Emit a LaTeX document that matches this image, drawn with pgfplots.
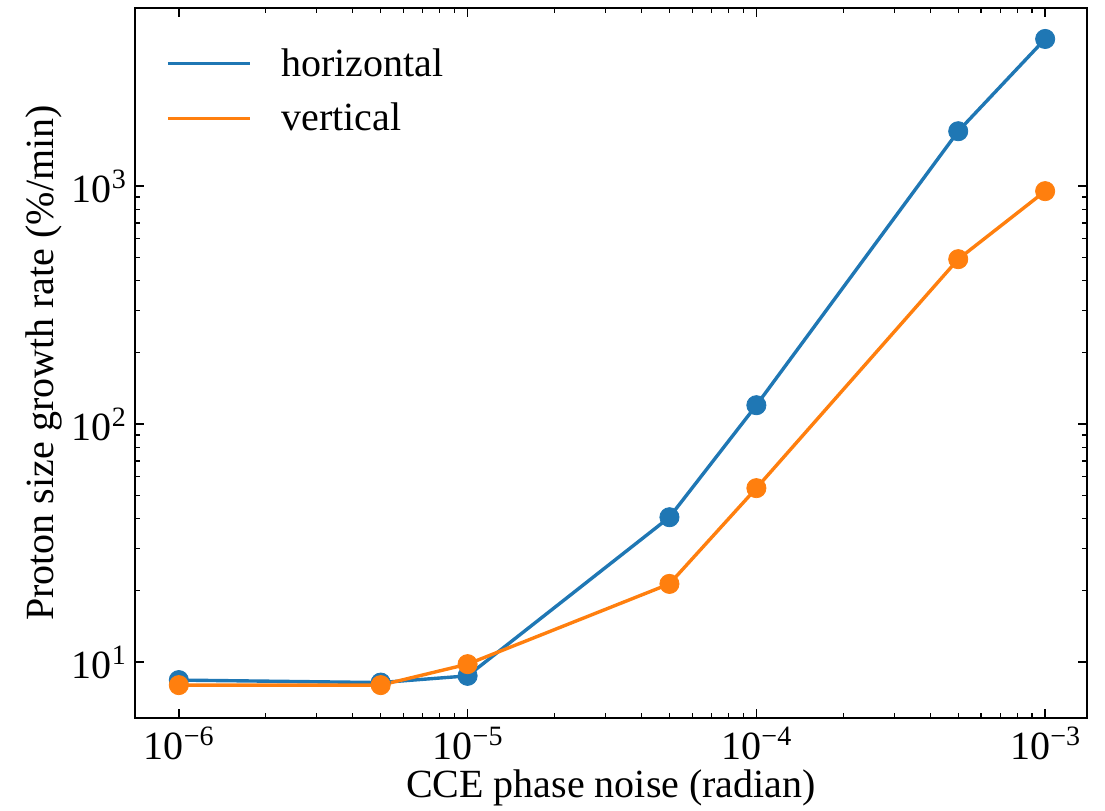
\documentclass[border=0pt]{standalone}
\usepackage{pgfplots}
\pgfplotsset{compat=1.18}
\usepackage{fontspec}
\setmainfont{Liberation Serif}
\definecolor{tabblue}{HTML}{1F77B4}
\definecolor{taborange}{HTML}{FF7F0E}
\newcommand{\tl}[1]{\rmfamily 10\raisebox{7pt}{\fontsize{14}{14}\selectfont\rmfamily #1}}
\begin{document}
\begin{tikzpicture}[font=\fontsize{20}{24}\selectfont\rmfamily]
\begin{axis}[
  xmode=log, ymode=log,
  scale only axis,
  width=476pt, height=355pt,
  xmin=7.05e-7, xmax=1.396e-3,
  ymin=5.82, ymax=5600,
  axis line style={line width=0.9pt},
  tick align=inside,
  xtick pos=both, ytick pos=both,
  major tick length=4.5pt, minor tick length=2.6pt,
  every tick/.style={black, line width=0.8pt},
  minor tick style={line width=0.6pt},
  /pgf/number format/assume math mode=true,
  xtick={1e-6,1e-5,1e-4,1e-3},
  xticklabels={\tl{−6},\tl{−5},\tl{−4},\tl{−3}},
  ytick={10,100,1000},
  yticklabels={\tl{1},\tl{2},\tl{3}},
  ticklabel style={font=\fontsize{20}{24}\selectfont\rmfamily},
  xticklabel style={yshift=-1pt},
  yticklabel style={xshift=-1pt},
  xlabel={CCE phase noise (radian)},
  ylabel={Proton size growth rate (\%/min)},
  xlabel style={yshift=2pt},
  ylabel style={yshift=-2pt},
  legend style={draw=none, fill=none, at={(0.026,0.955)}, anchor=north west,
    row sep=8pt, font=\fontsize{20}{24}\selectfont\rmfamily},
  legend cell align=left,
  legend image code/.code={\draw[#1] (0pt,0pt) -- (41pt,0pt); \path (54pt,0pt);},
]
\addplot[tabblue, line width=1.7pt] coordinates {
 (1e-6,8.4) (5e-6,8.2) (1e-5,8.75) (5e-5,40.6) (1e-4,120) (5e-4,1700) (1e-3,4150)};
\addlegendentry{horizontal}
\addplot[taborange, line width=1.7pt] coordinates {
 (1e-6,8.0) (5e-6,8.0) (1e-5,9.8) (5e-5,21.3) (1e-4,53.8) (5e-4,493) (1e-3,952)};
\addlegendentry{vertical}
\addplot[only marks, mark=*, mark size=4.8pt, tabblue, mark options={draw=tabblue, fill=tabblue}, forget plot] coordinates {
 (1e-6,8.4) (5e-6,8.2) (1e-5,8.75) (5e-5,40.6) (1e-4,120) (5e-4,1700) (1e-3,4150)};
\addplot[only marks, mark=*, mark size=4.8pt, taborange, mark options={draw=taborange, fill=taborange}, forget plot] coordinates {
 (1e-6,8.0) (5e-6,8.0) (1e-5,9.8) (5e-5,21.3) (1e-4,53.8) (5e-4,493) (1e-3,952)};
\end{axis}
\pgfresetboundingbox
\path (current axis.south west) ++(-67.5pt,-46pt) coordinate (bbsw);
\path (current axis.north east) ++(9pt,4pt) coordinate (bbne);
\path[use as bounding box] (bbsw) rectangle (bbne);
\end{tikzpicture}
\end{document}
